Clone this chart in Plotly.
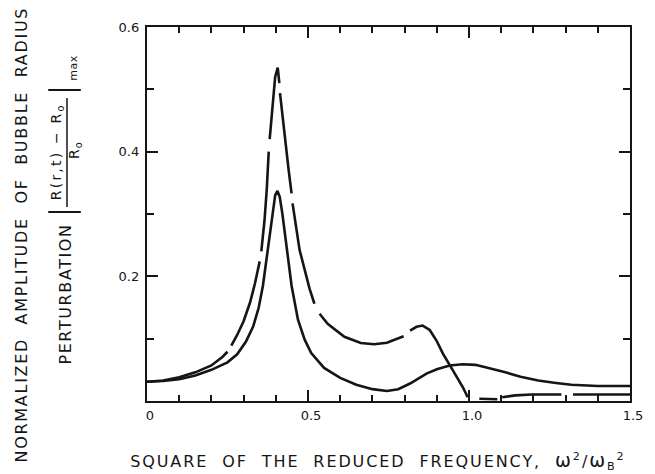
import plotly.graph_objects as go

# ---- data ----
# solid curve
lower_x = [0.0, 0.05, 0.1, 0.15, 0.2, 0.25, 0.28, 0.307, 0.33, 0.347, 0.36, 0.37, 0.38, 0.39,
           0.398, 0.405, 0.412, 0.42, 0.428, 0.434, 0.449, 0.469, 0.49, 0.51, 0.55, 0.6, 0.65,
           0.7, 0.745, 0.78, 0.817, 0.868, 0.9, 0.94, 0.98, 1.02, 1.06, 1.113, 1.16, 1.215,
           1.27, 1.318, 1.4, 1.5]
lower_y = [0.031, 0.032, 0.035, 0.041, 0.05, 0.062, 0.075, 0.095, 0.12, 0.15, 0.185, 0.225, 0.265,
           0.305, 0.33, 0.337, 0.328, 0.302, 0.27, 0.245, 0.185, 0.13, 0.098, 0.077, 0.053, 0.037,
           0.026, 0.019, 0.016, 0.019, 0.028, 0.044, 0.051, 0.057, 0.059, 0.058, 0.053, 0.046,
           0.039, 0.033, 0.029, 0.026, 0.024, 0.024]

# long-dashed curve (None = pen gap)
upper_x = [0.0, 0.05, 0.1, 0.15, 0.2, 0.235, 0.25, None,
           0.262, 0.28, 0.3, 0.32, 0.335, 0.35, None,
           0.355, 0.365, 0.372, 0.378, None,
           0.381, 0.39, 0.398, 0.406, 0.411, None,
           0.413, 0.42, 0.43, 0.44, 0.449, None,
           0.452, 0.46, 0.474, 0.49, 0.505, 0.52, None,
           0.536, 0.561, 0.613, 0.664, 0.705, 0.745, 0.797, None,
           0.817, 0.837, 0.856, 0.878, 0.899, 0.919, 0.95, 0.981, 0.996, None,
           1.032, 1.06, 1.088, None,
           1.103, 1.144, 1.195, 1.24, 1.287, None,
           1.323, 1.4, 1.5]
upper_y = [0.031, 0.033, 0.038, 0.046, 0.057, 0.071, 0.079, None,
           0.089, 0.106, 0.128, 0.158, 0.188, 0.224, None,
           0.24, 0.29, 0.34, 0.40, None,
           0.42, 0.48, 0.52, 0.535, 0.51, None,
           0.494, 0.46, 0.415, 0.37, 0.333, None,
           0.317, 0.288, 0.242, 0.21, 0.18, 0.156, None,
           0.14, 0.124, 0.103, 0.093, 0.091, 0.0935, 0.104, None,
           0.113, 0.119, 0.121, 0.114, 0.097, 0.076, 0.049, 0.022, 0.006, None,
           0.0035, 0.003, 0.0028, None,
           0.006, 0.009, 0.0105, 0.0105, 0.0105, None,
           0.0105, 0.0105, 0.0105]

x_tickvals = [0, 0.5, 1.0, 1.5]
x_ticktext = ["0", "0.5", "1.0", "1.5"]
y_tickvals = [0.2, 0.4, 0.6]
y_ticktext = ["0.2", "0.4", "0.6"]

# ---- layout helpers (pixel -> paper) ----
L, R, T, B = 147, 636, 27, 401
W, H = R - L, B - T
def fx(px):
    return (px - L) / W
def fy(py):
    return (B - py) / H

INK = "#151515"
FONT = "DejaVu Sans"
SP = "\u00a0\u00a0"

fig = go.Figure()
fig.add_trace(go.Scatter(x=lower_x, y=lower_y, mode="lines",
                         line=dict(color=INK, width=2.6), hoverinfo="skip"))
fig.add_trace(go.Scatter(x=upper_x, y=upper_y, mode="lines", connectgaps=False,
                         line=dict(color=INK, width=2.6), hoverinfo="skip"))

axis_common = dict(showgrid=False, zeroline=False, showline=True, linecolor=INK,
                   linewidth=2.4, mirror="allticks", ticks="inside", tickcolor=INK,
                   tickwidth=2, tickfont=dict(family=FONT, size=13, color=INK))

fig.update_xaxes(range=[0, 1.5], tickvals=x_tickvals, ticktext=x_ticktext, ticklen=11,
                 ticklabelshift=3, ticklabelstandoff=1,
                 minor=dict(dtick=0.1, ticks="inside", ticklen=6, tickwidth=1.6, tickcolor=INK),
                 **axis_common)
fig.update_yaxes(range=[0, 0.6], tickvals=y_tickvals, ticktext=y_ticktext, ticklen=11,
                 ticklabelstandoff=3,
                 minor=dict(dtick=0.1, ticks="inside", ticklen=7, tickwidth=1.6, tickcolor=INK),
                 **axis_common)

ann = []
def add(text, px, py, size, angle=0):
    ann.append(dict(text=text, x=fx(px), y=fy(py), xref="paper", yref="paper",
                    showarrow=False, textangle=angle, xanchor="center", yanchor="middle",
                    font=dict(family=FONT, size=size, color=INK)))

add(SP.join(["NORMALIZED", "AMPLITUDE", "OF", "BUBBLE", "RADIUS"]), 19, 235, 16, -90)
add("PERTURBATION", 64, 294, 16, -90)
add("R(r,t) \u2212 R<sub>o</sub>", 56, 152, 14, -90)
add("R<sub>o</sub>", 74, 150, 14, -90)
add("max", 72, 68, 11, -90)
add(SP.join(["SQUARE", "OF", "THE", "REDUCED", "FREQUENCY,",
             "<span style='font-size:19px'>\u03c9</span><sup>2</sup>/"
             "<span style='font-size:19px'>\u03c9</span><sub>B</sub><sup>2</sup>"]),
    381, 461, 16, 0)

shapes = [
    dict(type="line", xref="paper", yref="paper", x0=fx(47), x1=fx(80), y0=fy(212), y1=fy(212),
         line=dict(color=INK, width=2)),
    dict(type="line", xref="paper", yref="paper", x0=fx(47), x1=fx(80), y0=fy(90), y1=fy(90),
         line=dict(color=INK, width=2)),
    dict(type="line", xref="paper", yref="paper", x0=fx(66), x1=fx(66), y0=fy(98), y1=fy(207),
         line=dict(color=INK, width=1.5)),
]

fig.update_layout(width=655, height=474, showlegend=False,
                  margin=dict(l=L, r=655 - R, t=T, b=474 - B),
                  paper_bgcolor="white", plot_bgcolor="white",
                  annotations=ann, shapes=shapes)

post = """
document.body.style.margin='0';
var sp = {'0':'1.7px','1':'1.6px','2':'2.2px','3':'1px','4':'0.5px','5':'1.9px'};
document.querySelectorAll('g.annotation').forEach(function(g){
  var i = g.getAttribute('data-index');
  var t = g.querySelector('text');
  if (t && sp[i]) { t.style.letterSpacing = sp[i]; }
});
"""

fig.write_html("out.html", post_script=post, config={"displayModeBar": False})
